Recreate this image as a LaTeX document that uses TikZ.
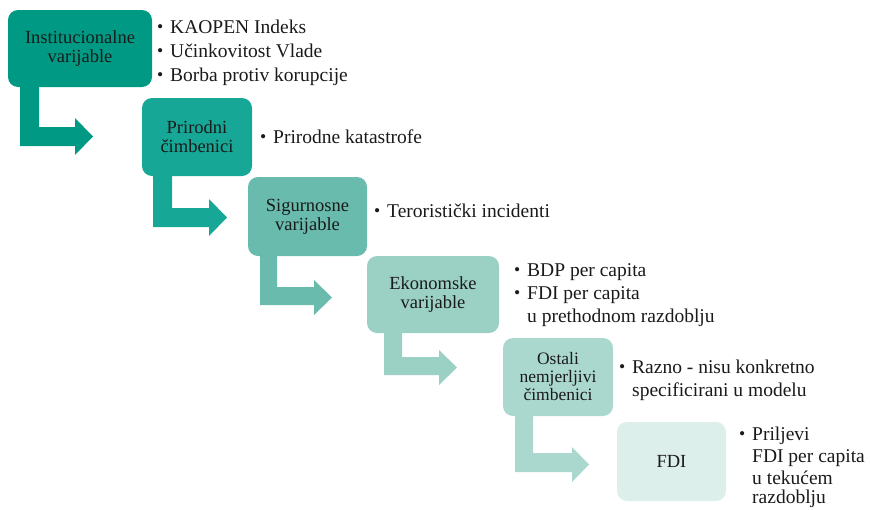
\documentclass[tikz,border=0pt]{standalone}
\usepackage{fontspec}
\usepackage{graphicx}
\setmainfont{Liberation Serif}
\definecolor{cA}{HTML}{009A84}
\definecolor{cB}{HTML}{17A797}
\definecolor{cC}{HTML}{68BBAD}
\definecolor{cD}{HTML}{9BD0C5}
\definecolor{cE}{HTML}{AAD8CF}
\definecolor{cF}{HTML}{DDEFEB}
\definecolor{ink}{HTML}{1A1A1A}
\newcommand{\bul}{\makebox[13pt][l]{\raisebox{0.3pt}{\scalebox{0.9}{\textbullet}}}}
\tikzset{
  stagebox/.style={rounded corners=10pt, align=center, inner sep=0pt, text=ink,
    font=\fontsize{18.5}{19}\selectfont},
  bl/.style={anchor=base west, inner sep=0pt, text=ink, font=\fontsize{19.5}{23.5}\selectfont}
}
\begin{document}
\begin{tikzpicture}[x=1pt,y=-1pt]
\useasboundingbox (0,0) rectangle (870,509);
% bent arrows
\fill[cA] (20,80) -- (20,146) -- (75,146) -- (75,155) -- (93,136.5) -- (75,118) -- (75,127) -- (39,127) -- (39,80) -- cycle;
\fill[cB] (153,170) -- (153,227) -- (209,227) -- (209,236) -- (227,217.5) -- (209,199) -- (209,208) -- (172,208) -- (172,170) -- cycle;
\fill[cC] (260,250) -- (260,305) -- (314,305) -- (314,315) -- (332,297.5) -- (314,280) -- (314,287) -- (277,287) -- (277,250) -- cycle;
\fill[cD] (384,327) -- (384,375) -- (439,375) -- (439,385) -- (457,367.5) -- (439,350) -- (439,357) -- (402,357) -- (402,327) -- cycle;
\fill[cE] (515,410) -- (515,472) -- (572,472) -- (572,482) -- (589,464.5) -- (572,447) -- (572,453) -- (533,453) -- (533,410) -- cycle;
% boxes
\node[stagebox, fill=cA, minimum width=144pt, minimum height=77pt] (b1) at (80,48.5) {Institucionalne\\varijable};
\node[stagebox, fill=cB, minimum width=110pt, minimum height=78pt] (b2) at (197,137) {Prirodni\\čimbenici};
\node[stagebox, fill=cC, minimum width=119pt, minimum height=79pt] (b3) at (307.5,216.5) {Sigurnosne\\varijable};
\node[stagebox, fill=cD, minimum width=132pt, minimum height=77pt] (b4) at (433,294.5) {Ekonomske\\varijable};
\node[stagebox, fill=cE, minimum width=110pt, minimum height=78pt, font=\fontsize{17.5}{18}\selectfont] (b5) at (558,377) {Ostali\\nemjerljivi\\čimbenici};
\node[stagebox, fill=cF, minimum width=109pt, minimum height=79pt] (b6) at (671.5,461.5) {FDI};
% bullet texts
\node[bl] (t1a) at (157,33) {\bul KAOPEN Indeks};
\node[bl] (t1b) at (157,57) {\bul Učinkovitost Vlade};
\node[bl] (t1c) at (157,81) {\bul Borba protiv korupcije};
\node[bl] (t2a) at (260,143) {\bul Prirodne katastrofe};
\node[bl] (t3a) at (374,217) {\bul Teroristički incidenti};
\node[bl] (t4a) at (514,276) {\bul BDP per capita};
\node[bl] (t4b) at (514,299) {\bul FDI per capita};
\node[bl] (t4c) at (527,322) {u prethodnom razdoblju};
\node[bl] (t5a) at (619,373) {\bul Razno - nisu konkretno};
\node[bl] (t5b) at (632,396) {specificirani u modelu};
\node[bl] (t6a) at (739,440) {\bul Priljevi};
\node[bl] (t6b) at (752,462) {FDI per capita};
\node[bl] (t6c) at (752,484) {u tekućem};
\node[bl] (t6d) at (752,503) {razdoblju};
\end{tikzpicture}
\end{document}
